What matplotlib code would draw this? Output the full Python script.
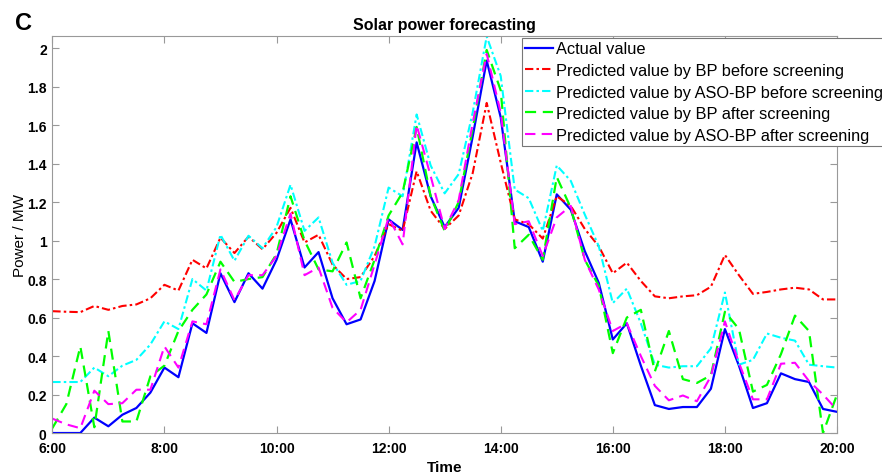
import numpy as np
import matplotlib
matplotlib.use('Agg')
import matplotlib.pyplot as plt

plt.rcParams['font.family'] = ['Liberation Sans', 'DejaVu Sans']

# 15-minute steps from 6:00 to 20:00
times = np.arange(57) * 0.25 + 6

actual = [0, 0, 0, 0.08, 0.035, 0.095, 0.13, 0.21, 0.34, 0.29,
          0.57, 0.52, 0.83, 0.68, 0.83, 0.75, 0.90, 1.11, 0.86, 0.94,
          0.70, 0.565, 0.59, 0.79, 1.11, 1.055, 1.51, 1.23, 1.07, 1.17,
          1.54, 1.935, 1.64, 1.10, 1.07, 0.89, 1.24, 1.16, 0.945, 0.78,
          0.486, 0.57, 0.35, 0.145, 0.125, 0.135, 0.135, 0.23, 0.54, 0.35,
          0.13, 0.155, 0.31, 0.28, 0.265, 0.125, 0.11]

bp_before = [0.633, 0.63, 0.628, 0.66, 0.64, 0.66, 0.668, 0.70, 0.77, 0.74,
             0.90, 0.855, 1.015, 0.935, 1.02, 0.955, 1.04, 1.17, 0.99, 1.03,
             0.875, 0.80, 0.81, 0.92, 1.085, 1.05, 1.36, 1.155, 1.06, 1.13,
             1.35, 1.715, 1.405, 1.11, 1.085, 1.01, 1.23, 1.18, 1.06, 0.97,
             0.83, 0.885, 0.79, 0.71, 0.70, 0.71, 0.716, 0.76, 0.925, 0.82,
             0.723, 0.733, 0.746, 0.755, 0.746, 0.694, 0.694]

aso_before = [0.265, 0.265, 0.265, 0.34, 0.295, 0.35, 0.38, 0.46, 0.58, 0.54,
              0.80, 0.74, 1.03, 0.895, 1.025, 0.96, 1.07, 1.29, 1.05, 1.12,
              0.885, 0.77, 0.79, 0.97, 1.275, 1.23, 1.655, 1.39, 1.245, 1.345,
              1.665, 2.06, 1.855, 1.265, 1.22, 1.05, 1.39, 1.31, 1.135, 0.97,
              0.675, 0.75, 0.57, 0.355, 0.34, 0.347, 0.347, 0.44, 0.73, 0.355,
              0.38, 0.517, 0.495, 0.48, 0.355, 0.347, 0.34]

bp_after = [0.025, 0.15, 0.45, 0.03, 0.53, 0.06, 0.06, 0.295, 0.35, 0.53,
            0.64, 0.72, 0.89, 0.785, 0.80, 0.81, 0.93, 1.23, 1.0, 0.85,
            0.84, 0.99, 0.70, 0.90, 1.13, 1.25, 1.59, 1.23, 1.05, 1.20,
            1.58, 1.99, 1.78, 0.96, 1.03, 0.90, 1.33, 1.17, 0.90, 0.765,
            0.415, 0.60, 0.64, 0.32, 0.53, 0.28, 0.26, 0.30, 0.63, 0.54,
            0.215, 0.25, 0.41, 0.61, 0.53, 0.0, 0.20]

aso_after = [0.075, 0.045, 0.025, 0.22, 0.15, 0.155, 0.225, 0.225, 0.45, 0.34,
             0.58, 0.565, 0.85, 0.69, 0.82, 0.82, 0.92, 1.14, 0.82, 0.86,
             0.65, 0.575, 0.64, 0.875, 1.12, 0.98, 1.60, 1.335, 1.06, 1.21,
             1.61, 1.97, 1.665, 1.085, 1.10, 0.92, 1.12, 1.18, 0.90, 0.745,
             0.53, 0.57, 0.40, 0.245, 0.17, 0.195, 0.165, 0.295, 0.58, 0.365,
             0.175, 0.175, 0.36, 0.365, 0.27, 0.20, 0.12]

labels = ['Actual value',
          'Predicted value by BP before screening',
          'Predicted value by ASO-BP before screening',
          'Predicted value by BP after screening',
          'Predicted value by ASO-BP after screening']

xticks = [6, 8, 10, 12, 14, 16, 18, 20]
xticklabels = ['6:00', '8:00', '10:00', '12:00', '14:00', '16:00', '18:00', '20:00']
yticks = [0, 0.2, 0.4, 0.6, 0.8, 1, 1.2, 1.4, 1.6, 1.8, 2]

fig = plt.figure(figsize=(8.82, 4.77), dpi=100)
ax = fig.add_axes([0.0593, 0.0901, 0.8897, 0.8329])

ax.plot(times, actual, color='#0000ff', lw=1.6, ls='-', label=labels[0])
ax.plot(times, bp_before, color='#ff0000', lw=1.5, ls=(0, (4, 1.5, 1.2, 1.5)), label=labels[1])
ax.plot(times, aso_before, color='#00ffff', lw=1.5, ls=(0, (4, 1.5, 1.2, 1.5)), label=labels[2])
ax.plot(times, bp_after, color='#00ff00', lw=1.6, ls=(0, (5, 3)), label=labels[3])
ax.plot(times, aso_after, color='#ff00ff', lw=1.5, ls=(0, (5, 3)), label=labels[4])

ax.set_xlim(6, 20)
ax.set_ylim(0, 2.064)
ax.set_xticks(xticks)
ax.set_xticklabels(xticklabels, fontweight='bold', fontsize=10)
ax.set_yticks(yticks)
ax.set_yticklabels(['%g' % v for v in yticks], fontweight='bold', fontsize=10)
ax.tick_params(direction='in', length=5, top=True, right=True, color='#999999')
ax.tick_params(axis='x', pad=5.5)
ax.tick_params(axis='y', pad=4)
for s in ax.spines.values():
    s.set_color('#999999')

ax.set_title('Solar power forecasting', fontweight='bold', fontsize=11.5, pad=5)
ax.set_xlabel('Time', fontweight='bold', fontsize=11, labelpad=4)
ax.set_ylabel('Power / MW', fontsize=11, labelpad=0)

fig.text(0.017, 0.975, 'C', fontsize=17, fontweight='bold', va='top')

leg = ax.legend(loc='upper left', bbox_to_anchor=(0.5986, 0.994), fontsize=11.8,
                fancybox=False, framealpha=1, edgecolor='#777777',
                handlelength=1.7, handletextpad=0.2, labelspacing=0.4,
                borderpad=0.2, borderaxespad=0)
leg.get_frame().set_linewidth(0.8)

fig.savefig('out.png', dpi=100)
